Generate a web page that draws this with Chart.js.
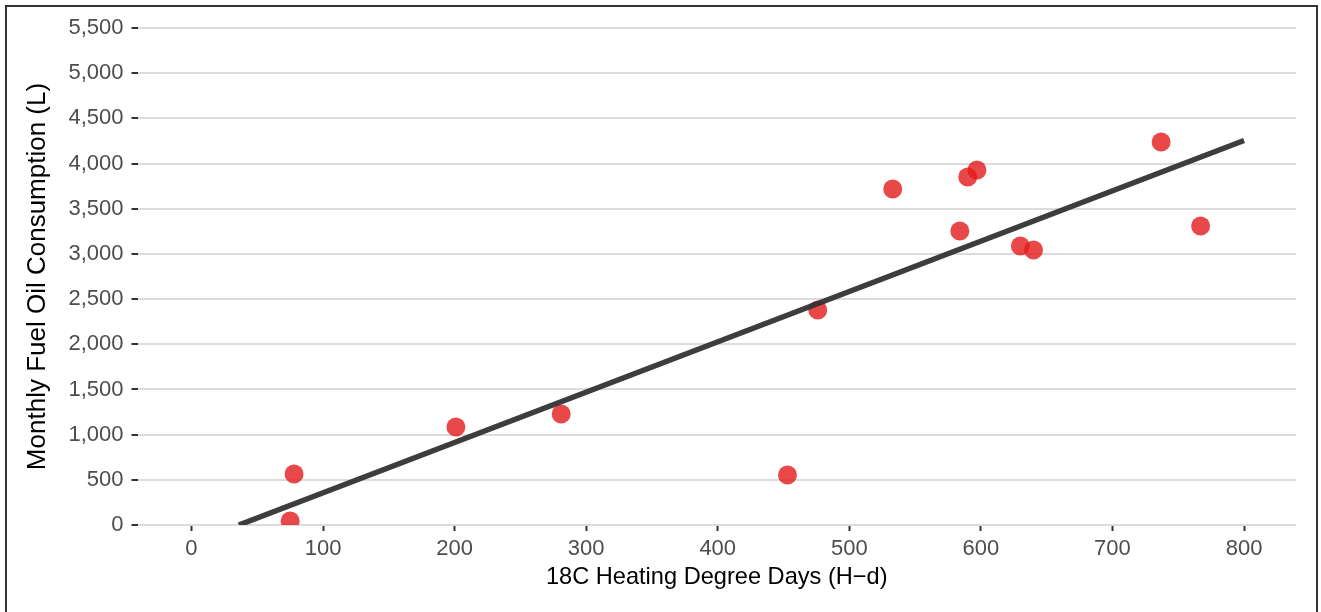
<!DOCTYPE html>
<html>
<head>
<meta charset="utf-8">
<script src="https://cdn.jsdelivr.net/npm/chart.js@4"></script>
<style>
  body{margin:0;background:#fff;overflow:hidden;}
  #wrap{position:relative;width:1321px;height:612px;}
  #frame{position:absolute;left:5px;top:5px;width:1309px;height:700px;border:2px solid #333;pointer-events:none;}
  canvas{position:absolute;left:0;top:0;}
</style>
</head>
<body>
<div id="wrap">
  <canvas id="chart" width="1321" height="612"></canvas>
  <div id="frame"></div>
</div>
<script>
// Data
const hdd=[75,78,201,281,453,476,533,584,590,597,630,640,737,767];
const fuel=[45,565,1085,1228,553,2380,3718,3254,3851,3929,3088,3043,4239,3309];

// fitted line end points
const fitX=[36,800];
const fitY=[0,4255];

const xTicks=[0,100,200,300,400,500,600,700,800];
const yTicks=[0,500,1000,1500,2000,2500,3000,3500,4000,4500,5000,5500];

const font='"Liberation Sans", Arial, sans-serif';

const ctx=document.getElementById('chart').getContext('2d');

new Chart(ctx,{
  type:'scatter',
  data:{
    datasets:[
      {
        type:'line',
        data:fitX.map((x,i)=>({x:x,y:fitY[i]})),
        borderColor:'rgba(51,51,51,0.95)',
        borderWidth:5.5,
        pointRadius:0,
        fill:false,
        order:0
      },
      {
        data:hdd.map((x,i)=>({x:x,y:fuel[i]})),
        backgroundColor:'rgba(228,26,28,0.8)',
        borderWidth:0,
        pointRadius:9.5,
        order:1
      }
    ]
  },
  options:{
    responsive:false,
    animation:false,
    layout:{padding:{top:28,right:25,left:0,bottom:0}},
    plugins:{legend:{display:false},tooltip:{enabled:false}},
    scales:{
      x:{
        type:'linear',
        min:-41,
        max:839.5,
        afterBuildTicks:s=>{ s.ticks=xTicks.map(v=>({value:v})); },
        afterFit:s=>{ s.height=87; },
        grid:{drawOnChartArea:false,tickColor:'#333',tickWidth:2,tickLength:6},
        border:{display:false},
        ticks:{color:'#4d4d4d',font:{family:font,size:22},padding:5,maxRotation:0},
        title:{display:true,text:'18C Heating Degree Days (H\u2212d)',color:'#000',
               font:{family:font,size:23.6},padding:{top:0,bottom:20}}
      },
      y:{
        min:0,
        max:5500,
        afterBuildTicks:s=>{ s.ticks=yTicks.map(v=>({value:v})); },
        afterFit:s=>{ s.width=137.5; },
        grid:{color:'#dcdcdc',lineWidth:2,tickColor:'#333',tickWidth:2,tickLength:6},
        border:{display:false},
        ticks:{color:'#4d4d4d',font:{family:font,size:22},padding:8,
               callback:v=>v.toLocaleString('en-US')},
        title:{display:true,text:'Monthly Fuel Oil Consumption (L)',color:'#000',
               font:{family:font,size:26},padding:{top:22,bottom:0}}
      }
    }
  }
});
</script>
</body>
</html>
